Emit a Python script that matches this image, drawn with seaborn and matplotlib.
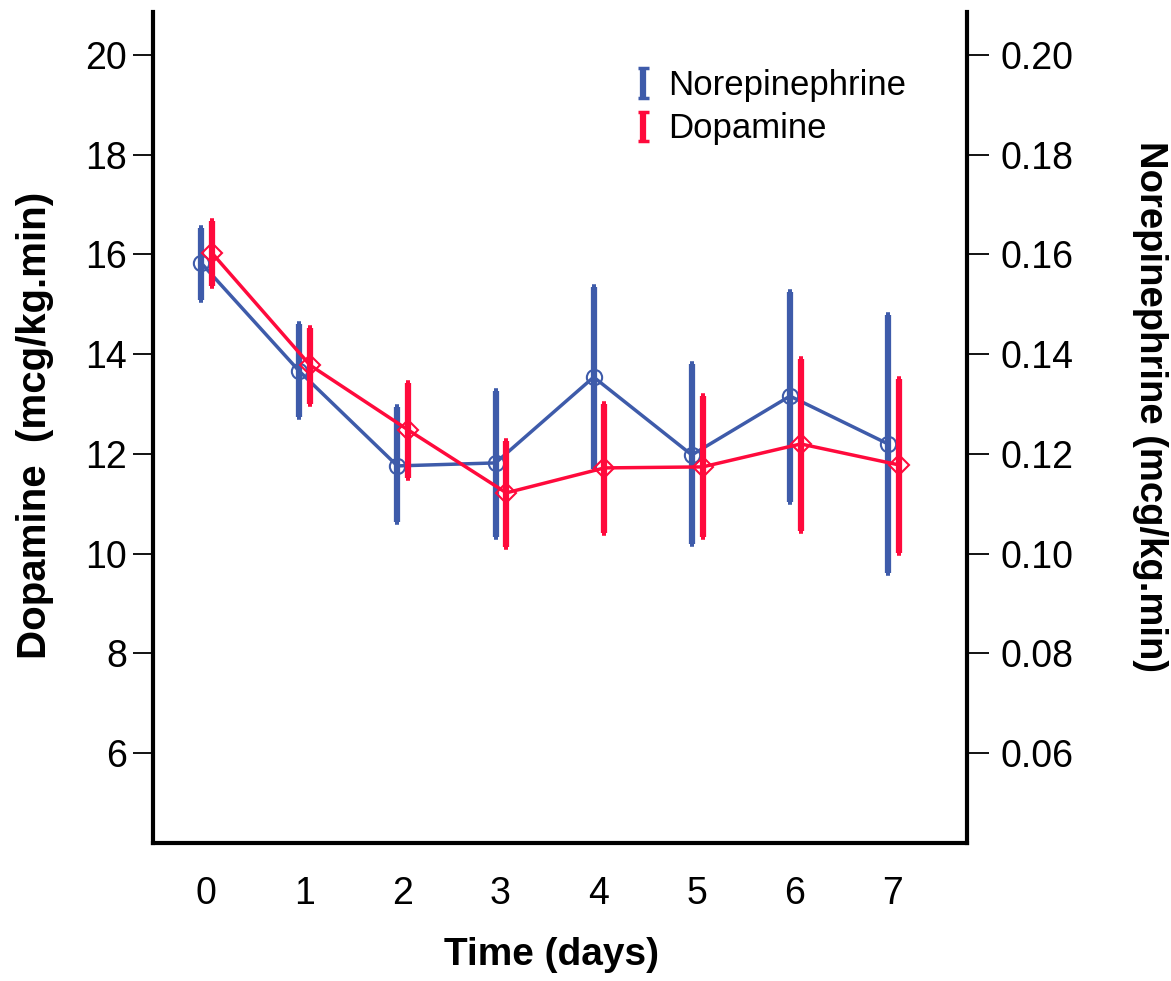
import numpy as np
import pandas as pd
import matplotlib
matplotlib.use("Agg")
import matplotlib.pyplot as plt
from matplotlib.lines import Line2D
from matplotlib.legend_handler import HandlerBase
import seaborn as sns

# ---- data ----
days = [0, 1, 2, 3, 4, 5, 6, 7]
# Norepinephrine (mcg/kg.min), right axis
ne_mean = [0.1583, 0.1366, 0.1176, 0.1182, 0.1354, 0.1198, 0.1316, 0.1220]
ne_low = [0.1509, 0.1274, 0.1063, 0.1033, 0.1170, 0.1019, 0.1103, 0.0961]
ne_high = [0.1653, 0.1460, 0.1294, 0.1326, 0.1535, 0.1380, 0.1525, 0.1479]
# Dopamine (mcg/kg.min), left axis
da_mean = [16.03, 13.78, 12.48, 11.22, 11.72, 11.74, 12.20, 11.78]
da_low = [15.37, 13.00, 11.52, 10.13, 10.41, 10.33, 10.45, 10.01]
da_high = [16.67, 14.52, 13.42, 12.26, 13.00, 13.16, 13.90, 13.50]

left_ticks = [6, 8, 10, 12, 14, 16, 18, 20]
right_ticks = [0.06, 0.08, 0.10, 0.12, 0.14, 0.16, 0.18, 0.20]
right_labels = ["0.06", "0.08", "0.10", "0.12", "0.14", "0.16", "0.18", "0.20"]

BLUE = "#3E5BAA"
RED = "#FF0A3C"

sns.set_theme(style="white")
plt.rcParams["font.family"] = ["Liberation Sans", "DejaVu Sans"]
plt.rcParams.update({"text.color": "black", "axes.labelcolor": "black",
                     "xtick.color": "black", "ytick.color": "black"})
narrow = ["Liberation Sans Narrow", "Liberation Sans", "DejaVu Sans"]


class IHandler(HandlerBase):
    """Legend key drawn as an error-bar 'I' glyph."""
    def __init__(self, color):
        super().__init__()
        self.color = color

    def create_artists(self, legend, orig_handle, xdescent, ydescent, width, height,
                       fontsize, trans):
        cx = width / 2 - xdescent
        y0 = -ydescent - 0.05 * height
        y1 = height - ydescent + 0.05 * height
        w = 0.28 * width
        kw = dict(color=self.color, transform=trans, solid_capstyle="butt")
        return [Line2D([cx, cx], [y0, y1], lw=4.5, **kw),
                Line2D([cx - w, cx + w], [y1, y1], lw=2.5, **kw),
                Line2D([cx - w, cx + w], [y0, y0], lw=2.5, **kw)]


fig = plt.figure(figsize=(11.71, 9.81), dpi=100)
ax = fig.add_axes([153 / 1171, 1 - 843 / 981, (967 - 153) / 1171, (843 - 12) / 981])
ax2 = ax.twinx()

ne_x = np.array(days) - 0.05
da_x = np.array(days) + 0.06

df_ne = pd.DataFrame({"x": ne_x, "y": ne_mean})
df_da = pd.DataFrame({"x": da_x, "y": da_mean})

# norepinephrine on right axis
eb_ne = ax2.errorbar(ne_x, ne_mean,
                     yerr=[np.array(ne_mean) - np.array(ne_low), np.array(ne_high) - np.array(ne_mean)],
                     fmt="none", ecolor=BLUE, elinewidth=4.5, capsize=1.5, capthick=4)
sns.lineplot(data=df_ne, x="x", y="y", ax=ax2, color=BLUE, linewidth=2.5,
             marker="o", markersize=11, markerfacecolor="none", markeredgecolor=BLUE,
             markeredgewidth=1.5, legend=False)

# dopamine on left axis
eb_da = ax.errorbar(da_x, da_mean,
                    yerr=[np.array(da_mean) - np.array(da_low), np.array(da_high) - np.array(da_mean)],
                    fmt="none", ecolor=RED, elinewidth=4.5, capsize=1.5, capthick=4)
sns.lineplot(data=df_da, x="x", y="y", ax=ax, color=RED, linewidth=2.5,
             marker="D", markersize=10, markerfacecolor="none", markeredgecolor=RED,
             markeredgewidth=1.5, legend=False)

ax.set_zorder(ax2.get_zorder() + 1)
ax.patch.set_visible(False)

ymin, ymax = 4.2, 20.86
ax.set_ylim(ymin, ymax)
ax2.set_ylim(ymin / 100, ymax / 100)
ax.set_xlim(-0.54, 7.754)

ax.set_xticks(days)
ax.set_xticklabels([str(d) for d in days], fontsize=27, family=narrow)
ax.set_yticks(left_ticks)
ax.set_yticklabels([str(t) for t in left_ticks], fontsize=27)
ax2.set_yticks(right_ticks)
ax2.set_yticklabels(right_labels, fontsize=27)

ax.tick_params(axis="y", direction="out", length=14.5, width=1.3, pad=4)
ax2.tick_params(axis="y", direction="out", length=16, width=1.3, pad=8)
ax.tick_params(axis="x", direction="out", length=18, width=1.3, pad=6)

for a in (ax, ax2):
    for s in a.spines.values():
        s.set_color("black")
        s.set_linewidth(3)
    a.spines["top"].set_visible(False)
ax2.spines["left"].set_visible(False)
ax2.spines["bottom"].set_visible(False)
ax.spines["right"].set_visible(False)
ax.grid(False)
ax2.grid(False)

ax.set_xlabel("Time (days)", fontsize=28, fontweight="bold", family=narrow, va="center")
ax.xaxis.set_label_coords((551 - 153) / 814, (843 - 955) / 831)
ax.set_ylabel("Dopamine  (mcg/kg.min)", fontsize=29, fontweight="bold", family=narrow,
              va="center")
ax.yaxis.set_label_coords((35 - 153) / 814, (843 - 425) / 831)
ax2.set_ylabel("Norepinephrine (mcg/kg.min)", fontsize=27.5, fontweight="bold", rotation=270,
               va="center")
ax2.yaxis.set_label_coords((1150 - 153) / 814, (843 - 406) / 831)

fig.legend(handles=[eb_ne, eb_da], labels=["Norepinephrine", "Dopamine"],
           handler_map={eb_ne: IHandler(BLUE), eb_da: IHandler(RED)},
           loc="upper left", bbox_to_anchor=(633 / 1171, 1 - 69 / 981), frameon=False,
           fontsize=25, handlelength=0.6, handletextpad=0.4, labelspacing=0.3, borderpad=0,
           borderaxespad=0, handleheight=0.8)

fig.savefig("out.png", dpi=100)
